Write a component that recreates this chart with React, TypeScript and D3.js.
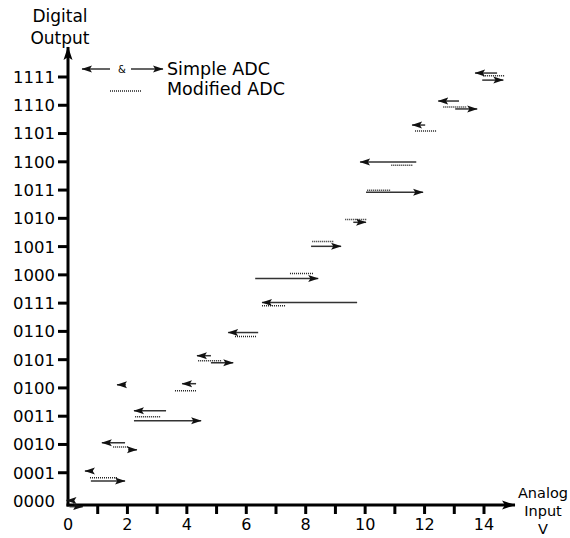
import * as d3 from 'd3';

// output codes on the vertical axis
const codeLabels = ['0000', '0001', '0010', '0011', '0100', '0101', '0110', '0111',
  '1000', '1001', '1010', '1011', '1100', '1101', '1110', '1111'];
const xLabelTicks = [0, 2, 4, 6, 8, 10, 12, 14];
const xMinorTicks = d3.range(1, 15);

// simple ADC transitions: [from V, to V, code position]
const simpleFrom = [0.2, 0.05, 0.84, 0.77, 1.92, 2.02, 3.3, 2.22, 1.95, 4.31, 4.81, 4.81, 6.4, 9.73, 6.3, 8.18, 9.6, 10.03, 11.72, 12.02, 13.16, 13.03, 14.44, 13.94];
const simpleTo = [-0.05, 0.5, 0.57, 1.92, 1.14, 2.32, 2.22, 4.48, 1.65, 3.84, 4.34, 5.56, 5.39, 6.53, 8.42, 9.19, 10.03, 11.95, 9.83, 11.58, 12.46, 13.77, 13.7, 14.65];
const simpleCode = [0.02, -0.2, 1.06, 0.71, 2.06, 1.81, 3.19, 2.84, 4.11, 4.15, 5.14, 4.89, 5.96, 7.02, 7.87, 9.01, 9.86, 10.92, 11.99, 13.3, 14.15, 13.87, 15.14, 14.89];

// modified ADC ranges: [from V, to V, code position]
const modFrom = [0.74, 1.52, 2.26, 3.6, 4.38, 5.62, 6.53, 7.47, 8.22, 9.33, 10.07, 10.88, 11.68, 12.63, 13.97];
const modTo = [1.65, 2.02, 3.1, 4.34, 5.19, 6.36, 7.31, 8.25, 8.96, 10.07, 10.84, 11.62, 12.42, 13.4, 14.71];
const modCode = [0.82, 1.91, 2.98, 3.9, 4.96, 5.82, 6.91, 8.05, 9.18, 9.96, 10.99, 11.88, 13.09, 13.94, 15.04];

const width = 570;
const height = 538;
const font = 'DejaVu Sans, sans-serif';

export default function App() {
  const x = d3.scaleLinear().domain([0, 14]).range([68, 484]);
  const y = d3.scaleLinear().domain([0, 15]).range([501, 77]);
  const axisY = 505;
  const axisX = x(0);

  return (
    <svg width={width} height={height} style={{ position: 'absolute', left: 0, top: 0, background: '#fff' }}>
      <defs>
        <marker id="head" markerUnits="userSpaceOnUse" viewBox="0 -4 11 8" refX="10" refY="0" markerWidth="11" markerHeight="8" orient="auto">
          <path d="M0,-3.5 L10.5,0 L0,3.5 L2.2,0 Z" fill="#111" />
        </marker>
        <marker id="axisHead" markerUnits="userSpaceOnUse" viewBox="0 -6 14 12" refX="13" refY="0" markerWidth="14" markerHeight="12" orient="auto">
          <path d="M0,-4.5 L13.5,0 L0,4.5 L3,0 Z" fill="#000" />
        </marker>
      </defs>

      {/* axes */}
      <line x1={axisX} y1={axisY + 1.5} x2={axisX} y2={47} stroke="#000" strokeWidth={3} markerEnd="url(#axisHead)" />
      <line x1={axisX - 1.5} y1={axisY} x2={515} y2={axisY} stroke="#000" strokeWidth={3} markerEnd="url(#axisHead)" />

      {xMinorTicks.map(t => (
        <line key={'xt' + t} x1={x(t)} x2={x(t)} y1={axisY} y2={axisY + 9} stroke="#000" strokeWidth={3} />
      ))}
      {xLabelTicks.map(t => (
        <text key={'xl' + t} x={x(t)} y={530} textAnchor="middle" fontFamily={font} fontSize={16}>{t}</text>
      ))}

      {codeLabels.map((c, i) => (
        <g key={c}>
          {i > 0 && <line x1={axisX - 10} x2={axisX} y1={y(i)} y2={y(i)} stroke="#000" strokeWidth={3} />}
          <text x={55} y={y(i)} dy="0.36em" textAnchor="end" fontFamily={font} fontSize={16.5}>{c}</text>
        </g>
      ))}

      {/* axis titles */}
      <text x={60} y={22} textAnchor="middle" fontFamily={font} fontSize={17}>Digital</text>
      <text x={60} y={44} textAnchor="middle" fontFamily={font} fontSize={17}>Output</text>
      <text x={543} y={498} textAnchor="middle" fontFamily={font} fontSize={14.5}>Analog</text>
      <text x={543} y={516} textAnchor="middle" fontFamily={font} fontSize={14.5}>Input</text>
      <text x={543} y={534} textAnchor="middle" fontFamily={font} fontSize={14.5}>V</text>

      {/* legend */}
      <line x1={110} x2={82} y1={69} y2={69} stroke="#111" strokeWidth={1.3} markerEnd="url(#head)" />
      <text x={122} y={73} textAnchor="middle" fontFamily={font} fontSize={10}>&amp;</text>
      <line x1={131} x2={163} y1={69} y2={69} stroke="#111" strokeWidth={1.3} markerEnd="url(#head)" />
      <text x={167} y={75} fontFamily={font} fontSize={17.5}>Simple ADC</text>
      <line x1={110} x2={142} y1={91} y2={91} stroke="#222" strokeWidth={1.3} strokeDasharray="1,1" />
      <text x={167} y={95} fontFamily={font} fontSize={17.5}>Modified ADC</text>

      {/* modified ADC ranges */}
      {modFrom.map((f, i) => (
        <line key={'m' + i} x1={x(f)} x2={x(modTo[i])} y1={y(modCode[i])} y2={y(modCode[i])}
          stroke="#222" strokeWidth={1.5} strokeDasharray="1,1" />
      ))}

      {/* simple ADC transitions */}
      {simpleFrom.map((f, i) => (
        <line key={'s' + i} x1={x(f)} x2={x(simpleTo[i])} y1={y(simpleCode[i])} y2={y(simpleCode[i])}
          stroke="#333" strokeWidth={1.5} markerEnd="url(#head)" />
      ))}
    </svg>
  );
}
